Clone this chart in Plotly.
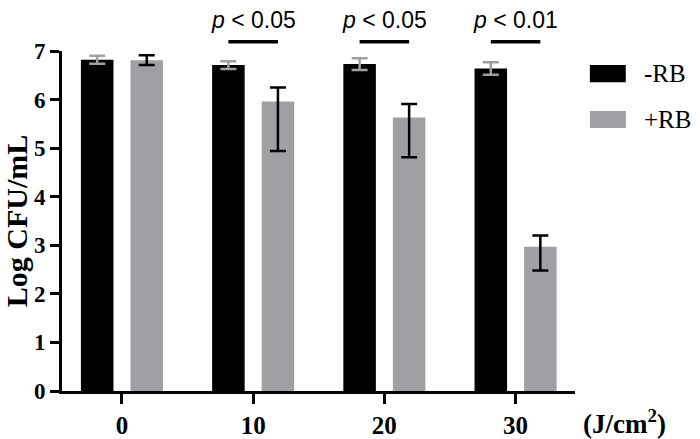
import plotly.graph_objects as go

# ---- data ----
categories = [0, 10, 20, 30]
tick_labels = ["0", "10", "20", "30"]
series_names = ["-RB", "+RB"]

minus_rb = [6.82, 6.71, 6.73, 6.64]
minus_rb_err = [0.08, 0.08, 0.12, 0.13]

plus_rb = [6.81, 5.96, 5.63, 2.97]
plus_rb_err_up = [0.10, 0.29, 0.28, 0.23]
plus_rb_err_down = [0.10, 1.02, 0.82, 0.49]

sig_groups = [10, 20, 30]
sig_values = ["0.05", "0.05", "0.01"]

BLACK = "#000000"
GREY = "#a0a0a4"
SERIF = "Liberation Serif"
SANS = "Liberation Sans"

xpos = list(range(len(categories)))
BARGAP = 0.245
BARGROUPGAP = 0.343
slot = (1 - BARGAP) / 2.0  # width of one bar slot in category units

fig = go.Figure()
fig.add_trace(go.Bar(
    x=xpos, y=minus_rb, name=series_names[0],
    marker=dict(color=BLACK, line=dict(width=0)),
    error_y=dict(type="data", array=minus_rb_err, color=GREY,
                 thickness=2.5, width=8),
))
fig.add_trace(go.Bar(
    x=xpos, y=plus_rb, name=series_names[1],
    marker=dict(color=GREY, line=dict(width=0)),
    error_y=dict(type="data", array=plus_rb_err_up,
                 arrayminus=plus_rb_err_down, symmetric=False,
                 color=BLACK, thickness=2.5, width=8),
))

shapes = []
annotations = []

# significance bars and p-values
for g, v in zip(sig_groups, sig_values):
    i = categories.index(g)
    shapes.append(dict(type="line", xref="x", yref="paper",
                       x0=i - slot / 2, x1=i + slot / 2, y0=1.027, y1=1.027,
                       line=dict(color=BLACK, width=3.5)))
    annotations.append(dict(xref="x", yref="paper", x=i, y=1.092,
                            text="<i>p</i> &lt; " + v, showarrow=False,
                            xanchor="center", yanchor="middle",
                            font=dict(family=SANS, size=23, color=BLACK)))

# legend (drawn boxes + labels)
leg_colors = [BLACK, GREY]
leg_y = [(0.959, 0.908), (0.8235, 0.7735)]
for name, col, (ya, yb) in zip(series_names, leg_colors, leg_y):
    shapes.append(dict(type="rect", xref="paper", yref="paper",
                       x0=1.029, x1=1.099, y0=yb, y1=ya,
                       fillcolor=col, line=dict(width=0)))
    annotations.append(dict(xref="paper", yref="paper", x=1.13,
                            y=(ya + yb) / 2, text=name, showarrow=False,
                            xanchor="left", yanchor="middle",
                            font=dict(family=SERIF, size=25, color=BLACK)))

# unit label
annotations.append(dict(xref="paper", yref="paper", x=1.012, y=-0.09,
                        text="<b>(J/cm<sup>2</sup>)</b>", showarrow=False,
                        xanchor="left", yanchor="middle",
                        font=dict(family=SERIF, size=27, color=BLACK)))

fig.update_layout(
    width=700, height=439,
    margin=dict(l=62, r=125, t=51, b=48, autoexpand=False),
    paper_bgcolor="white", plot_bgcolor="white",
    barmode="group", bargap=BARGAP, bargroupgap=BARGROUPGAP,
    showlegend=False,
    shapes=shapes, annotations=annotations,
    xaxis=dict(
        range=[-0.457, 3.453], tickmode="array", tickvals=xpos,
        ticktext=["<b>%s</b>" % t for t in tick_labels],
        showline=True, linecolor=BLACK, linewidth=3,
        ticks="outside", ticklen=10, tickwidth=3, tickcolor=BLACK,
        showgrid=False, zeroline=False, automargin=False,
        tickfont=dict(family=SERIF, size=25, color=BLACK),
    ),
    yaxis=dict(
        range=[0, 7], tickmode="array", tickvals=list(range(8)),
        ticktext=["<b>%d</b>" % v for v in range(8)],
        showline=True, linecolor=BLACK, linewidth=3,
        ticks="outside", ticklen=9, tickwidth=3, tickcolor=BLACK,
        showgrid=False, zeroline=False, automargin=False,
        tickfont=dict(family=SERIF, size=23, color=BLACK),
        title=dict(text="<b>Log CFU/mL</b>", standoff=4,
                   font=dict(family=SERIF, size=30, color=BLACK)),
    ),
)

fig.write_html("out.html",
               config={"displayModeBar": False},
               post_script="document.body.style.margin='0';"
                           "document.body.style.overflow='hidden';")
